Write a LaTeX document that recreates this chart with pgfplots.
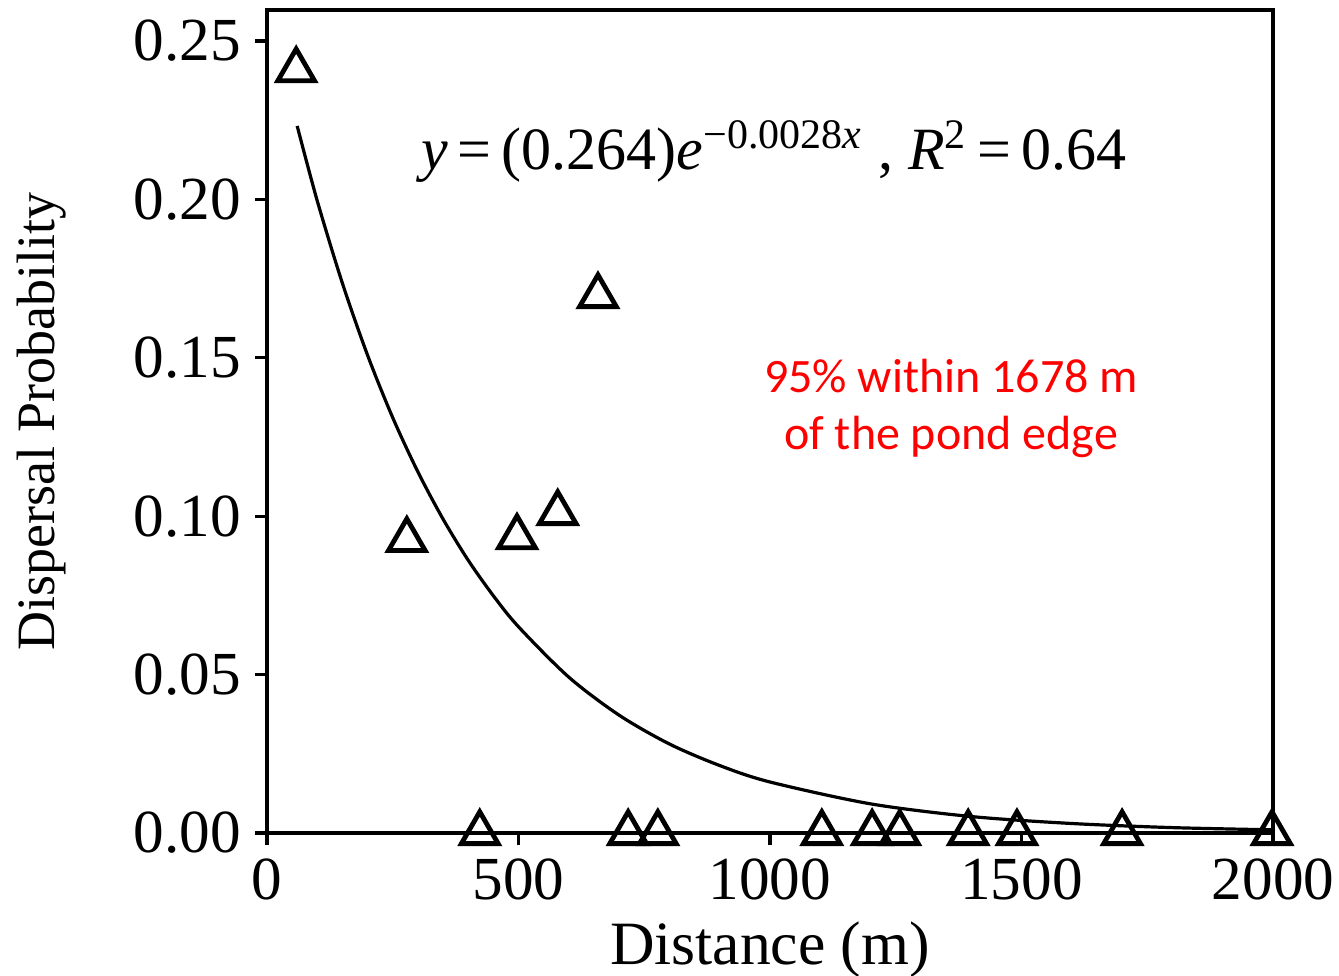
\documentclass[border=0pt]{standalone}
\usepackage{fontspec}
\setmainfont{Liberation Serif}
\newfontfamily\calibri{Carlito}
\usepackage{pgfplots}
\pgfplotsset{compat=1.18}
\begin{document}
\begin{tikzpicture}
\path[use as bounding box] (-66.75pt,-35.5pt) rectangle (268pt,208.25pt);
\begin{axis}[
  at={(0,0)}, anchor=south west,
  scale only axis, width=251.5pt, height=205.75pt,
  xmin=0, xmax=2000, ymin=0, ymax=0.2598,
  xtick={0,500,1000,1500,2000},
  ytick={0,0.05,0.10,0.15,0.20,0.25},
  axis line style={line width=0.8pt},
  tick align=outside, tick pos=left, major tick length=3pt,
  tick style={line width=0.8pt, black},
  /pgf/number format/assume math mode=true,
  ticklabel style={font=\fontsize{15.3}{18}\selectfont},
  yticklabel style={/pgf/number format/.cd, fixed, fixed zerofill, precision=2},
  xticklabel style={/pgf/number format/1000 sep={}},
  xlabel={Distance (m)}, ylabel={Dispersal Probability},
  xlabel style={at={(axis description cs:0.5,-0.142)}, anchor=center, font=\fontsize{15.4}{18}\selectfont},
  ylabel style={at={(axis description cs:-0.2237,0.5)}, anchor=center, font=\fontsize{13.5}{16}\selectfont},
  clip=false,
]
\addplot[smooth, line width=0.8pt, black] coordinates {
 (60,0.2232) (100,0.1995) (150,0.1735) (200,0.1508) (250,0.1311) (300,0.1140)
 (350,0.0991) (400,0.0861) (450,0.0749) (500,0.0651) (600,0.0492) (700,0.0372)
 (800,0.0281) (900,0.0213) (1000,0.0161) (1200,0.0092) (1400,0.0052)
 (1600,0.0030) (1800,0.0017) (2000,0.0010)};
\addplot[only marks, mark=triangle, mark size=5.3pt, mark options={line width=1.2pt, black}] coordinates {
 (58,0.2408) (278,0.0925) (497,0.0934) (578,0.1010) (658,0.1695)
 (423,0) (718,0) (777,0) (1103,0) (1203,0) (1258,0) (1394,0) (1491,0) (1700,0) (1998,0)};
\node[font=\fontsize{15}{18}\selectfont] at (axis cs:1008,0.215)
  {\textit{y}\,=\,(0.264)\textit{e}\textsuperscript{−0.0028\textit{x}}\ , \textit{R}\textsuperscript{2}\,=\,0.64};
\node[font=\calibri\fontsize{12}{14.25}\selectfont, text=red, align=center] at (axis cs:1360,0.134)
  {95\% within 1678 m\\of the pond edge};
\end{axis}
\end{tikzpicture}
\end{document}
